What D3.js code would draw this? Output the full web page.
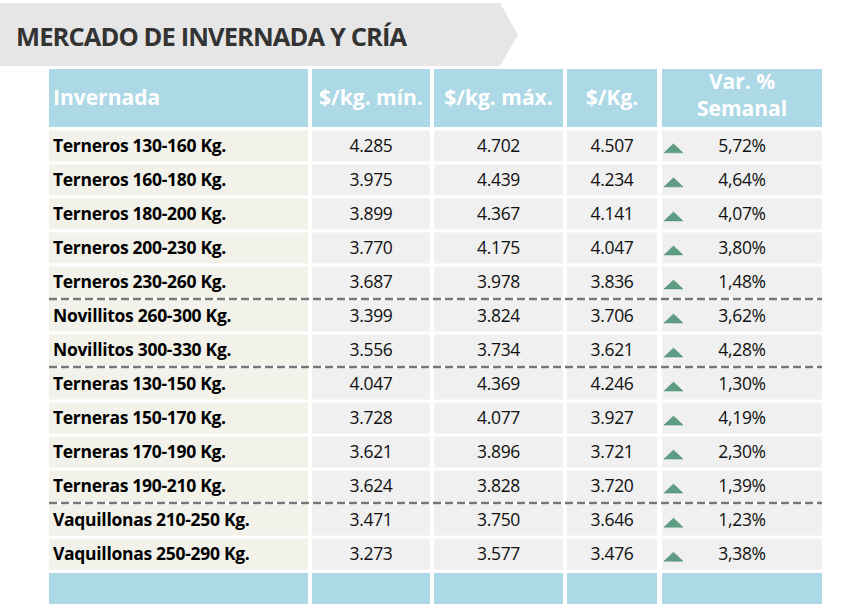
<!DOCTYPE html><html><head><meta charset="utf-8"><script src="https://cdn.jsdelivr.net/npm/d3@7"></script>
<style>body{margin:0;background:#fff}</style></head><body><svg id="c" width="859" height="606"></svg>
<script>
const title="MERCADO DE INVERNADA Y CRÍA";
const headers=["Invernada","$/kg. mín.","$/kg. máx.","$/Kg.",["Var. %","Semanal"]];
const categories=["Terneros 130-160 Kg.","Terneros 160-180 Kg.","Terneros 180-200 Kg.","Terneros 200-230 Kg.","Terneros 230-260 Kg.","Novillitos 260-300 Kg.","Novillitos 300-330 Kg.","Terneras 130-150 Kg.","Terneras 150-170 Kg.","Terneras 170-190 Kg.","Terneras 190-210 Kg.","Vaquillonas 210-250 Kg.","Vaquillonas 250-290 Kg."];
const minVals=[4285,3975,3899,3770,3687,3399,3556,4047,3728,3621,3624,3471,3273];
const maxVals=[4702,4439,4367,4175,3978,3824,3734,4369,4077,3896,3828,3750,3577];
const avgVals=[4507,4234,4141,4047,3836,3706,3621,4246,3927,3721,3720,3646,3476];
const varVals=[5.72,4.64,4.07,3.80,1.48,3.62,4.28,1.30,4.19,2.30,1.39,1.23,3.38];
const groupBreaks=[5,7,11];

const svg=d3.select("#c");
const F="'Open Sans',sans-serif";
svg.append("path").attr("d","M0,3H500L518,35L500,66H0Z").attr("fill","#e6e6e6");
svg.append("text").text(title).attr("x",16).attr("y",46).attr("font-family",F).attr("font-weight",700).attr("font-size",25.5).attr("fill","#333").attr("letter-spacing",-0.9);
const cols=[[49,308],[312,430],[434,563],[567,657],[662,822]];
const y=d3.scaleBand().domain(d3.range(13)).range([129,571]).paddingInner(0.09).paddingOuter(0.04);
cols.forEach((c,i)=>{svg.append("rect").attr("x",c[0]).attr("y",69).attr("width",c[1]-c[0]).attr("height",58).attr("fill","#add8e6");
 const h=headers[i]; const t=svg.append("text").attr("font-family",F).attr("font-weight",700).attr("font-size",21).attr("fill","#fff")
 .attr("x",i==0?c[0]+4:(c[0]+c[1])/2).attr("text-anchor",i==0?"start":"middle");
 if(Array.isArray(h)){t.attr("y",89);t.append("tspan").text(h[0]);t.append("tspan").attr("x",(c[0]+c[1])/2).attr("dy",27).text(h[1]);}
 else t.attr("y",105).text(h);
 svg.append("rect").attr("x",c[0]).attr("y",573).attr("width",c[1]-c[0]).attr("height",31).attr("fill","#add8e6");
});
const fmt=v=>d3.format(".3f")(v/1000);
const fmtP=v=>d3.format(".2f")(v).replace(".",",")+"%";
categories.forEach((cat,r)=>{
 const y0=y(r),h=y.bandwidth(),cy=y0+h/2+6;
 cols.forEach((c,i)=>svg.append("rect").attr("x",c[0]).attr("y",y0).attr("width",c[1]-c[0]).attr("height",h).attr("fill",i==0?"#f2f2ea":"#f0f0f0"));
 svg.append("text").text(cat).attr("x",53).attr("y",cy).attr("font-family",F).attr("font-weight",700).attr("font-size",17.5).attr("fill","#000").attr("letter-spacing",-0.3);
 [minVals[r],maxVals[r],avgVals[r]].forEach((v,k)=>svg.append("text").text(fmt(v)).attr("x",(cols[k+1][0]+cols[k+1][1])/2).attr("y",cy).attr("text-anchor","middle").attr("font-family",F).attr("font-size",17.5).attr("fill","#111").attr("letter-spacing",-0.3));
 svg.append("text").text(fmtP(varVals[r])).attr("x",742).attr("y",cy).attr("text-anchor","middle").attr("font-family",F).attr("font-size",17.5).attr("fill","#111").attr("letter-spacing",-0.3);
 const ty=y0+h/2;
 svg.append("path").attr("d",`M664,${ty+7}L673.5,${ty-2}L683,${ty+7}Z`).attr("fill","#5e9c84").attr("stroke","#4d8a72").attr("stroke-width",0.5);
});
groupBreaks.forEach(b=>{const yy=(y(b-1)+y.bandwidth()+y(b))/2;
 svg.append("line").attr("x1",49).attr("x2",822).attr("y1",yy).attr("y2",yy).attr("stroke","#777").attr("stroke-width",2.5).attr("stroke-dasharray","8,4");});
</script></body></html>
